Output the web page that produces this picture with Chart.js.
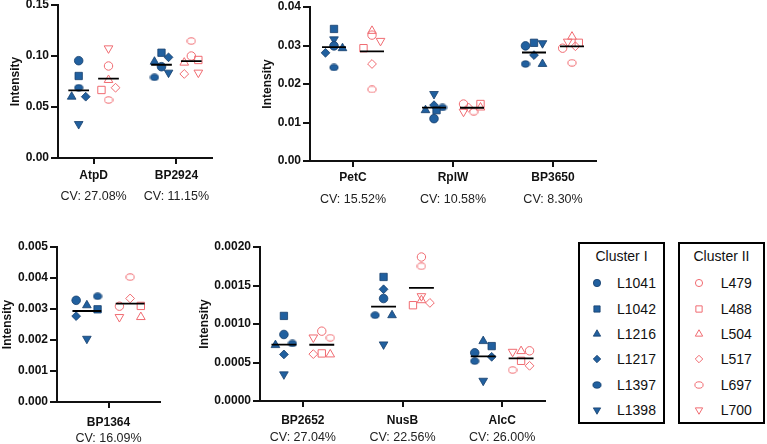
<!DOCTYPE html>
<html>
<head>
<meta charset="utf-8">
<script src="https://cdn.jsdelivr.net/npm/chart.js@4.4.1/dist/chart.umd.min.js"></script>
<style>
  body { margin: 0; background: #fff; }
  #page { position: relative; width: 767px; height: 444px; overflow: hidden; font-family: 'Liberation Sans', Arial, sans-serif; }
  #page canvas.panel { position: absolute; }
  .legend { position: absolute; top: 242px; width: 83px; height: 178px; border: 2px solid #000; }
  .legend .ttl { position: absolute; left: 0; right: 0; top: 4px; text-align: center; font-size: 14px; line-height: 16px; color: #111; }
  .legend .row { position: absolute; font-size: 14px; line-height: 16px; color: #111; }
  .legend canvas { position: absolute; }
</style>
</head>
<body>
<div id="page">
  <canvas id="p1" class="panel"></canvas>
  <canvas id="p2" class="panel"></canvas>
  <canvas id="p3" class="panel"></canvas>
  <canvas id="p4" class="panel"></canvas>
  <div class="legend" id="legendI" style="left:578px"></div>
  <div class="legend" id="legendII" style="left:678px"></div>
</div>
<script>
/* strains, in the order used by every value array below */
const clusterI = ['L1041', 'L1042', 'L1216', 'L1217', 'L1397', 'L1398'];
const clusterII = ['L479', 'L488', 'L504', 'L517', 'L697', 'L700'];

/* intensities */
const atpdI = [0.0954, 0.0804, 0.0601, 0.0601, 0.0689, 0.0333];
const atpdII = [0.0902, 0.0667, 0.0765, 0.0689, 0.0569, 0.1075];
const bp2924I = [0.0895, 0.1032, 0.0944, 0.0987, 0.0791, 0.0837];
const bp2924II = [0.1000, 0.0961, 0.0935, 0.0824, 0.1147, 0.0837];
const petcI = [0.0299, 0.0343, 0.0293, 0.0281, 0.0243, 0.0316];
const petcII = [0.0327, 0.0293, 0.0338, 0.0252, 0.0186, 0.0312];
const rplwI = [0.0110, 0.0132, 0.0132, 0.0145, 0.0139, 0.0174];
const rplwII = [0.0148, 0.0148, 0.0139, 0.0139, 0.0128, 0.0128];
const bp3650I = [0.0299, 0.0307, 0.0252, 0.0275, 0.0252, 0.0306];
const bp3650II = [0.0293, 0.0307, 0.0323, 0.0298, 0.0255, 0.0310];
const bp1364I = [0.00328, 0.00299, 0.00312, 0.00277, 0.00341, 0.00204];
const bp1364II = [0.00309, 0.00310, 0.00274, 0.00334, 0.00403, 0.00274];
const bp2652I = [0.000864, 0.001105, 0.000726, 0.000605, 0.000747, 0.000346];
const bp2652II = [0.000907, 0.000618, 0.000605, 0.000609, 0.000821, 0.000825];
const nusbI = [0.001331, 0.001611, 0.001114, 0.001451, 0.001114, 0.000735];
const nusbII = [0.00187, 0.001244, 0.001309, 0.001274, 0.00175, 0.001361];
const alccI = [0.000626, 0.000713, 0.000778, 0.000574, 0.000518, 0.000263];
const alccII = [0.000652, 0.000522, 0.000648, 0.000457, 0.000402, 0.000639];

/* which column each dot sits in inside its group (-1 left, 0 middle, 1 right) */
const atpdSlots = [[0, 0, -1, 1, 0, 0], [0, -1, 0, 1, 0, 0]];
const bp2924Slots = [[0, 0, -1, 1, -1, 1], [0, 1, -1, -1, 0, 1]];
const petcSlots = [[0, 0, 1, -1, 0, 0], [0, -1, 0, 0, 0, 1]];
const rplwSlots = [[0, 0.3, -1, 0, 1, 0], [-1, 1, 1, -0.4, 0.2, -1]];
const bp3650Slots = [[-1, 0, 1, 0, -1, 1], [-1.1, 0.8, 0, 0.4, 0, -0.5]];
const bp1364Slots = [[-1, 1, 0, -1, 1, 0], [-1, 1, 1, 0, 0, -1]];
const bp2652Slots = [[0, 0, -1, 0, 1, 0], [0, 0, 1, -1, 1, -1]];
const nusbSlots = [[0, 0, 1, 0, -1, 0], [0, -1, 0, 1, 0, 0]];
const alccSlots = [[-1, 1, 0, 1, -1, 0], [1, 0, 0, 1, -1, -1]];

/* axis labels */
const genes1 = ['AtpD', 'BP2924'];
const cv1 = ['CV: 27.08%', 'CV: 11.15%'];
const genes2 = ['PetC', 'RplW', 'BP3650'];
const cv2 = ['CV: 15.52%', 'CV: 10.58%', 'CV: 8.30%'];
const genes3 = ['BP1364'];
const cv3 = ['CV: 16.09%'];
const genes4 = ['BP2652', 'NusB', 'AlcC'];
const cv4 = ['CV: 27.04%', 'CV: 22.56%', 'CV: 26.00%'];

const yTicks1 = [0, 0.05, 0.10, 0.15];
const yTicks2 = [0, 0.01, 0.02, 0.03, 0.04];
const yTicks3 = [0, 0.001, 0.002, 0.003, 0.004, 0.005];
const yTicks4 = [0, 0.0005, 0.0010, 0.0015, 0.0020];

/* colours and marker shapes */
const blue = '#21609f';
const blueEdge = '#163f6c';
const red = '#f06b71';
const FONT = "'Liberation Sans', Arial, sans-serif";

function ovalMark(fill, stroke, lw) {
  const c = document.createElement('canvas');
  c.width = 10; c.height = 8;
  const g = c.getContext('2d');
  g.beginPath();
  g.ellipse(5, 4, 4.1, 3.2, 0, 0, Math.PI * 2);
  if (fill) { g.fillStyle = fill; g.fill(); }
  g.lineWidth = lw; g.strokeStyle = stroke; g.stroke();
  return c;
}

const marksI = [
  { style: 'circle', r: 4.3 },
  { style: 'rect', r: 5.2 },
  { style: 'triangle', r: 5 },
  { style: 'rectRot', r: 4.4 },
  { style: ovalMark(blue, blueEdge, 0.8), r: 4 },
  { style: 'triangle', r: 5, rot: 180 }
];
const marksII = [
  { style: 'circle', r: 4.2 },
  { style: 'rect', r: 5.2 },
  { style: 'triangle', r: 5 },
  { style: 'rectRot', r: 4.4 },
  { style: ovalMark(null, red, 1), r: 4 },
  { style: 'triangle', r: 5, rot: 180 }
];
const lookI = { fill: blue, edge: blueEdge, width: 0.8 };
const lookII = { fill: 'rgba(255,255,255,0)', edge: red, width: 1 };

function strainSets(names, marks, look, values, slots, side, p) {
  return names.map((name, si) => ({
    label: name,
    data: values.map((vals, gi) => ({ x: gi + 1 + side * p.off + slots[gi][side < 0 ? 0 : 1][si] * p.spread, y: vals[si] })),
    pointStyle: marks[si].style,
    pointRadius: marks[si].r,
    pointRotation: marks[si].rot || 0,
    pointBackgroundColor: look.fill,
    pointBorderColor: look.edge,
    pointBorderWidth: look.width,
    order: 1
  }));
}

function meanSet(valsI, valsII, p) {
  const pts = [];
  [valsI, valsII].forEach(function(group, k) {
    const side = k === 0 ? -1 : 1;
    group.forEach(function(v, gi) {
      const m = v.reduce((a, b) => a + b, 0) / v.length;
      const c = gi + 1 + side * p.off;
      pts.push({ x: c - p.half, y: m }, { x: c + p.half, y: m }, { x: c + p.half, y: null });
    });
  });
  return { label: 'mean', data: pts, showLine: true, spanGaps: false, borderColor: '#000', borderWidth: 1.8, pointRadius: 0, order: 0 };
}

function makePanel(p) {
  const el = document.getElementById(p.id);
  el.width = p.w; el.height = p.h;
  el.style.left = p.left + 'px';
  el.style.top = p.top + 'px';

  const datasets = [meanSet(p.valsI, p.valsII, p)]
    .concat(strainSets(clusterI, marksI, lookI, p.valsI, p.slots, -1, p))
    .concat(strainSets(clusterII, marksII, lookII, p.valsII, p.slots, 1, p));

  const catTicks = function(scale) { scale.ticks = p.genes.map((g, i) => ({ value: i + 1 })); };

  new Chart(el, {
    type: 'scatter',
    data: { datasets: datasets },
    options: {
      responsive: false,
      animation: false,
      events: [],
      layout: { padding: { top: 12, left: 0, right: 8, bottom: 0 } },
      plugins: { legend: { display: false }, tooltip: { enabled: false } },
      scales: {
        x: {
          type: 'linear', position: 'bottom', weight: 0, bounds: 'data',
          min: p.xMin, max: p.xMax,
          afterBuildTicks: catTicks,
          afterFit: function(s) { s.height = p.xh; },
          border: { display: true, color: '#111', width: 2 },
          grid: { drawOnChartArea: false, drawTicks: true, tickLength: 6, color: '#111', lineWidth: 2 },
          ticks: {
            autoSkip: false, maxRotation: 0, minRotation: 0, padding: p.lblPad, color: '#111',
            font: { family: FONT, size: 12, weight: 'bold' },
            callback: (v) => p.genes[Math.round(v) - 1]
          }
        },
        x2: {
          type: 'linear', axis: 'x', position: 'bottom', weight: 1, bounds: 'data',
          min: p.xMin, max: p.xMax,
          afterBuildTicks: catTicks,
          afterFit: function(s) { s.height = 22; },
          border: { display: false },
          grid: { display: false, drawTicks: false },
          ticks: {
            autoSkip: false, maxRotation: 0, minRotation: 0, padding: 1, color: '#222',
            font: { family: FONT, size: 12.5 },
            callback: (v) => p.cv[Math.round(v) - 1]
          }
        },
        y: {
          type: 'linear', bounds: 'data',
          min: 0, max: p.yTicks[p.yTicks.length - 1],
          afterBuildTicks: function(scale) { scale.ticks = p.yTicks.map(v => ({ value: v })); },
          afterFit: function(s) { s.width = p.yw; },
          border: { display: true, color: '#111', width: 2 },
          grid: { drawOnChartArea: false, drawTicks: true, tickLength: 7, color: '#111', lineWidth: 2 },
          ticks: {
            padding: 2, color: '#111',
            font: { family: FONT, size: 12, weight: 'bold' },
            callback: (v) => v.toFixed(p.dec)
          },
          title: {
            display: true, text: 'Intensity', color: '#111',
            padding: { top: p.titlePad, bottom: 0 },
            font: { family: FONT, size: 12, weight: 'bold' }
          }
        }
      }
    }
  });
}

makePanel({
  id: 'p1', left: 0, top: -7, w: 220, h: 217, yw: 58, xh: 30,
  xMin: 0.57, xMax: 2.43, off: 0.18, spread: 0.085, half: 0.125, lblPad: 4, titlePad: 8,
  genes: genes1, cv: cv1, yTicks: yTicks1, dec: 2,
  valsI: [atpdI, bp2924I], valsII: [atpdII, bp2924II], slots: [atpdSlots, bp2924Slots]
});
makePanel({
  id: 'p2', left: 250, top: -5, w: 354, h: 218, yw: 60, xh: 30,
  xMin: 0.57, xMax: 3.43, off: 0.19, spread: 0.085, half: 0.12, lblPad: 3, titlePad: 10,
  genes: genes2, cv: cv2, yTicks: yTicks2, dec: 2,
  valsI: [petcI, rplwI, bp3650I], valsII: [petcII, rplwII, bp3650II], slots: [petcSlots, rplwSlots, bp3650Slots]
});
makePanel({
  id: 'p3', left: 0, top: 235, w: 168, h: 217, yw: 57, xh: 28,
  xMin: 0.5, xMax: 1.5, off: 0.21, spread: 0.104, half: 0.14, lblPad: 7, titlePad: 0,
  genes: genes3, cv: cv3, yTicks: yTicks3, dec: 3,
  valsI: [bp1364I], valsII: [bp1364II], slots: [bp1364Slots]
});
makePanel({
  id: 'p4', left: 195, top: 235, w: 358, h: 216, yw: 65, xh: 28,
  xMin: 0.57, xMax: 3.43, off: 0.19, spread: 0.085, half: 0.125, lblPad: 6, titlePad: 2,
  genes: genes4, cv: cv4, yTicks: yTicks4, dec: 4,
  valsI: [bp2652I, nusbI, alccI], valsII: [bp2652II, nusbII, alccII], slots: [bp2652Slots, nusbSlots, alccSlots]
});

/* legend boxes */
function makeLegend(boxId, title, names, marks, look, markX, textX) {
  const box = document.getElementById(boxId);
  const t = document.createElement('div');
  t.className = 'ttl';
  t.textContent = title;
  box.appendChild(t);
  names.forEach(function(name, i) {
    const cy = 39.3 + 25.3 * i;
    const c = document.createElement('canvas');
    c.width = 14; c.height = 14;
    c.style.left = (markX - 7) + 'px';
    c.style.top = (cy - 7) + 'px';
    box.appendChild(c);
    const ctx = c.getContext('2d');
    ctx.fillStyle = look.fill;
    ctx.strokeStyle = look.edge;
    ctx.lineWidth = look.width;
    Chart.helpers.drawPoint(ctx, {
      pointStyle: marks[i].style, radius: marks[i].r * 0.85,
      rotation: marks[i].rot || 0, borderWidth: look.width
    }, 7, 7);
    const row = document.createElement('div');
    row.className = 'row';
    row.style.left = textX + 'px';
    row.style.top = (cy - 8) + 'px';
    row.textContent = name;
    box.appendChild(row);
  });
}
makeLegend('legendI', 'Cluster I', clusterI, marksI, lookI, 16.7, 37);
makeLegend('legendII', 'Cluster II', clusterII, marksII, lookII, 19.3, 40.7);
</script>
</body>
</html>
